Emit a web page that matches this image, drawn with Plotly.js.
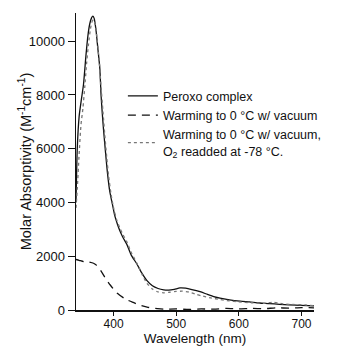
<!DOCTYPE html>
<html><head><meta charset="utf-8">
<script src="https://cdn.plot.ly/plotly-3.0.1.min.js"></script>
<style>html,body{margin:0;padding:0;background:#fff}#chart{width:352px;height:346px}</style>
</head><body><div id="chart"></div>
<script>
// Peroxo complex (solid)
var peroxoWl  = [340,342,345,349,352,356,359,362,365,367,369,372,375,378,380,382,384,387,390,394,398,402,406,410,415,421,428,437,445,453,462,471,480,488,497,506,515,525,538,550,560,570,585,602,617,633,649,665,680,700,720];
var peroxoAbs = [4000,6000,7200,7900,8400,9500,10200,10650,10880,10930,10850,10400,9700,9000,8000,7300,6700,5900,5150,4400,3950,3500,3200,2950,2700,2450,2050,1720,1380,1100,900,800,750,740,770,820,810,760,680,580,500,440,380,330,300,260,240,210,190,170,150];
// Warming to 0 °C w/ vacuum (dashed)
var vacWl  = [340,345,352,360,368,373,380,387,395,406,418,430,442,455,470,480,500,520,540,560,580,600,620,640,660,680,700,720];
var vacAbs = [1880,1850,1800,1790,1740,1660,1450,1180,920,620,420,290,180,100,50,30,40,20,40,30,60,40,60,50,80,70,90,80];
// Warming to 0 °C w/ vacuum, O2 readded at -78 °C (dotted)
var readdWl  = [340,342,345,348,351,354,357,360,363,366,368,371,374,377,380,383,386,389,392,396,400,405,410,415,421,428,437,445,453,462,471,480,490,500,510,520,530,540,555,570,585,600,620,640,655,670,690,705,720];
var readdAbs = [3800,4500,5800,6900,7500,8300,9200,9900,10450,10750,10800,10600,10000,9300,8300,7400,6500,5700,5000,4300,3800,3350,3050,2800,2550,2150,1750,1350,1000,780,670,640,660,690,700,670,600,530,450,390,340,300,270,250,290,230,200,190,160];

var names = ['Peroxo complex','Warming to 0 °C w/ vacuum','Warming to 0 °C w/ vacuum,<br>O<sub>2</sub> readded at -78 °C.'];
var xTicks = [400,500,600,700];
var yTicks = [0,2000,4000,6000,8000,10000];

var traces = [
  {x: peroxoWl, y: peroxoAbs, name: names[0], mode:'lines', line:{color:'#111', width:1.3, shape:'spline', smoothing:0.6}},
  {x: vacWl, y: vacAbs, name: names[1], mode:'lines', line:{color:'#111', width:1.3, dash:'8px,6px', shape:'spline', smoothing:0.6}},
  {x: readdWl, y: readdAbs, name: names[2], mode:'lines', line:{color:'#777', width:1.3, dash:'dot', shape:'spline', smoothing:0.6}}
];
var font = {family:'"Liberation Sans", Arial, sans-serif', color:'#111'};
var layout = {
  width:352, height:346,
  margin:{l:76, r:38, t:13, b:36},
  paper_bgcolor:'#fff', plot_bgcolor:'#fff',
  font: Object.assign({size:13}, font),
  showlegend:true,
  legend:{x:0.197, y:0.77, xanchor:'left', yanchor:'top', bgcolor:'rgba(0,0,0,0)', font:Object.assign({size:12.5}, font), tracegroupgap:0, itemwidth:30},
  xaxis:{range:[340,720], tickvals:xTicks, ticktext:xTicks.map(String), showgrid:false, zeroline:false, showline:true, linecolor:'#111', linewidth:1.5, ticks:'outside', ticklen:4, tickcolor:'#111', ticklabelstandoff:-2, tickfont:Object.assign({size:12}, font),
         title:{text:'Wavelength (nm)', font:Object.assign({size:13.5}, font), standoff:2}},
  yaxis:{range:[0,11050], tickvals:yTicks, ticktext:yTicks.map(String), showgrid:false, zeroline:false, showline:true, linecolor:'#111', linewidth:1.5, ticks:'outside', ticklen:7, tickcolor:'#111', tickfont:Object.assign({size:13}, font),
         title:{text:'Molar Absorptivity (M<sup>-1</sup>cm<sup>-1</sup>)', font:Object.assign({size:14.5}, font)}}
};
Plotly.newPlot('chart', traces, layout, {displayModeBar:false, staticPlot:true});
</script></body></html>
